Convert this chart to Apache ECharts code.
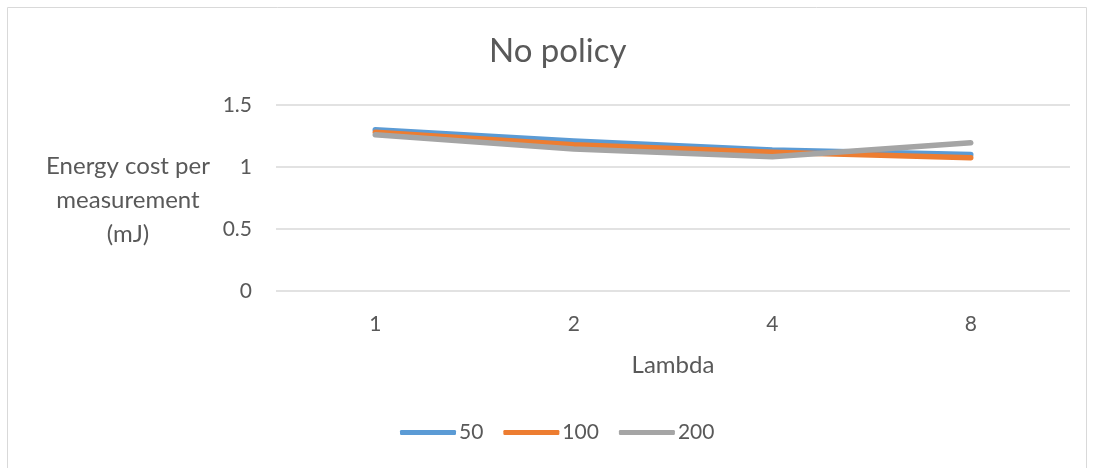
<!DOCTYPE html>
<html><head><meta charset="utf-8">
<script src="https://cdn.jsdelivr.net/npm/echarts@6/dist/echarts.min.js"></script>
<style>html,body{margin:0;padding:0;background:#fff}#c{width:1094px;height:468px}</style>
</head><body><div id="c"></div>
<script>
const categories = ['1', '2', '4', '8'];
const seriesNames = ['50', '100', '200'];
const s50 = [1.30, 1.21, 1.137, 1.10];
const s100 = [1.28, 1.18, 1.118, 1.075];
const s200 = [1.26, 1.145, 1.083, 1.196];
const yTicks = [0, 0.5, 1, 1.5];
const yTitleLines = ['Energy cost per', 'measurement', '(mJ)'];
const colors = ['#5B9BD5', '#ED7D31', '#A5A5A5'];
const FONT = 'Lato';
const txt = '#595959';

const chart = echarts.init(document.getElementById('c'), null, {renderer: 'canvas'});
const data = [s50, s100, s200];
chart.setOption({
  animation: false,
  title: {text: 'No policy', left: 484, top: 30,
    textStyle: {fontFamily: FONT, fontSize: 33, fontWeight: 'normal', color: txt}},
  grid: {left: 276, right: 24, top: 105, bottom: 177},
  legend: {
    data: seriesNames, bottom: 20, left: 395, itemWidth: 56, itemHeight: 5, itemGap: 20,
    icon: 'roundRect',
    textStyle: {fontFamily: FONT, fontSize: 21, color: txt, padding: [0, 0, 0, -2]}
  },
  xAxis: {
    type: 'category', data: categories, boundaryGap: true,
    name: 'Lambda', nameLocation: 'middle', nameGap: 62,
    nameTextStyle: {fontFamily: FONT, fontSize: 24, color: txt},
    axisLine: {show: false}, axisTick: {show: false},
    axisLabel: {fontFamily: FONT, fontSize: 21, color: txt, margin: 23}
  },
  yAxis: {
    type: 'value', min: 0, max: 1.5, interval: 0.5,
    axisLine: {show: false}, axisTick: {show: false},
    axisLabel: {fontFamily: FONT, fontSize: 21, color: txt, margin: 24,
      formatter: v => yTicks.includes(v) ? String(v) : ''},
    splitLine: {lineStyle: {color: '#D9D9D9', width: 1.5}}
  },
  graphic: [
    {type: 'rect', shape: {x: 7.5, y: 7.5, width: 1079, height: 470}, silent: true,
      style: {fill: 'none', stroke: '#D9D9D9', lineWidth: 1}}
  ].concat(yTitleLines.map((t, i) => ({
    type: 'text', silent: true,
    style: {text: t, x: 128, y: 166 + i * 34, fontFamily: FONT, fontSize: 24, fill: txt,
      textAlign: 'center', textVerticalAlign: 'middle'}
  }))),
  series: seriesNames.map((n, i) => ({
    name: n, type: 'line', data: data[i], symbol: 'none', smooth: false,
    lineStyle: {color: colors[i], width: 5.5, cap: 'round', join: 'round'},
    itemStyle: {color: colors[i]}
  }))
});
</script></body></html>
